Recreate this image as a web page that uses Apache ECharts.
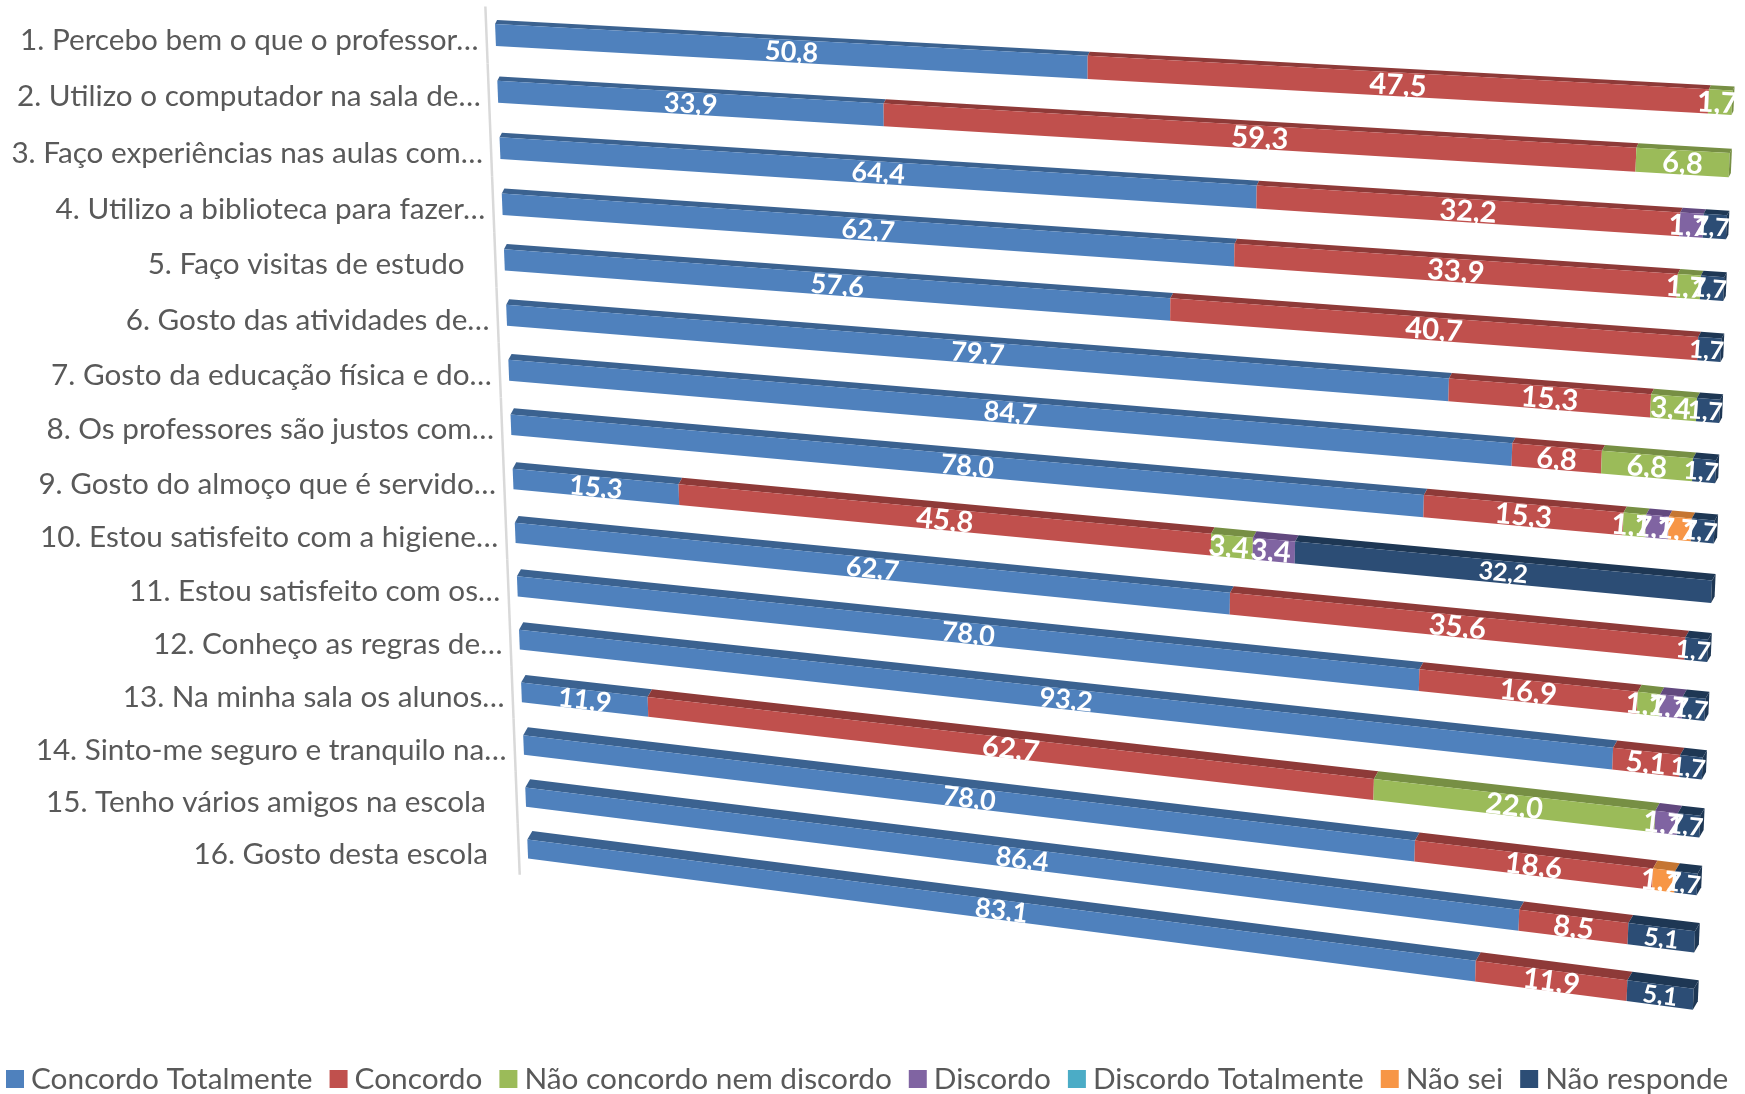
<!DOCTYPE html>
<html><head><meta charset="utf-8">
<style>html,body{margin:0;padding:0;background:#fff}#c{width:1745px;height:1094px}</style>
<script src="https://cdn.jsdelivr.net/npm/echarts@6/dist/echarts.min.js"></script>
</head><body><div id="c"></div>
<script>
const categories = [
 "1. Percebo bem o que o professor…",
 "2. Utilizo o computador na sala de…",
 "3. Faço experiências nas aulas com…",
 "4. Utilizo a biblioteca para fazer…",
 "5. Faço visitas de estudo\u00a0\u00a0\u00a0",
 "6. Gosto das atividades de…",
 "7. Gosto da educação física e do…",
 "8. Os professores são justos com…",
 "9. Gosto do almoço que é servido…",
 "10. Estou satisfeito com a higiene…",
 "11. Estou satisfeito com os…",
 "12. Conheço as regras de…",
 "13. Na minha sala os alunos…",
 "14. Sinto-me seguro e tranquilo na…",
 "15. Tenho vários amigos na escola\u00a0\u00a0\u00a0",
 "16. Gosto desta escola\u00a0\u00a0\u00a0"
];
const concordoTotalmente = [50.8,33.9,64.4,62.7,57.6,79.7,84.7,78.0,15.3,62.7,78.0,93.2,11.9,78.0,86.4,83.1];
const concordo           = [47.5,59.3,32.2,33.9,40.7,15.3,6.8,15.3,45.8,35.6,16.9,5.1,62.7,18.6,8.5,11.9];
const naoConcordoNem     = [1.7,6.8,0,1.7,0,3.4,6.8,1.7,3.4,0,1.7,0,22.0,0,0,0];
const discordo           = [0,0,1.7,0,0,0,0,1.7,3.4,0,1.7,0,1.7,0,0,0];
const discordoTotalmente = [0,0,0,0,0,0,0,0,0,0,0,0,0,0,0,0];
const naoSei             = [0,0,0,0,0,0,0,1.7,0,0,0,0,0,1.7,0,0];
const naoResponde        = [0,0,1.7,1.7,1.7,1.7,1.7,1.7,32.2,1.7,1.7,1.7,1.7,1.7,5.1,5.1];

const seriesNames = ["Concordo Totalmente","Concordo","Não concordo nem discordo","Discordo","Discordo Totalmente","Não sei","Não responde"];
const seriesValues = [concordoTotalmente,concordo,naoConcordoNem,discordo,discordoTotalmente,naoSei,naoResponde];
const colors = ["#4F81BD","#C0504D","#9BBB59","#8064A2","#4BACC6","#F79646","#2C4D75"];
const topColors = ["#3B6290","#8E3A38","#778F44","#62497F","#3888A0","#C57632","#1E3754"];
const FONT = 'Lato, "Open Sans", sans-serif';

// perspective of the 3-D plot, applied to the pixels the axes produce
const L0=[495.5,35], R0=[1732,102.7], L1=[527.7,849], R1=[1692,999];
const A=0.89, B=1.05;
const lerp=(a,b,t)=>a+(b-a)*t;
function warp(px,py,cs){
  const band=cs.height/16, s=(py-(cs.y+band/2))/(cs.height-band);
  const u=(px-cs.x)/cs.width, uu=A*u/(1+(A-1)*u), vv=B*s/(1+(B-1)*s);
  const lx=lerp(L0[0],L1[0],vv), ly=lerp(L0[1],L1[1],vv), rx=lerp(R0[0],R1[0],vv), ry=lerp(R0[1],R1[1],vv);
  return [lerp(lx,rx,uu),lerp(ly,ry,uu)];
}
function stackedData(k){
  return seriesValues[k].map((v,i)=>{
    let st=0; for(let j=0;j<k;j++) st+=seriesValues[j][i];
    return [i,st,st+v,v];
  });
}
function isLast(k,row){ for(let j=k+1;j<seriesValues.length;j++) if(seriesValues[j][row]>0) return false; return true; }
const fontSizes=[27,29,29,29,29,29,25];

function barRender(k){
  return function(params,api){
    const row=api.value(0), st=api.value(1), en=api.value(2), val=api.value(3);
    if(!val) return null;
    const cs=params.coordSys, t=row/15;
    const a=api.coord([st,row]), b=api.coord([en,row]);
    const bandPx=cs.height/16, half=bandPx*lerp(0.39,0.37,t)/2;
    const p1=warp(a[0],a[1]-half,cs), p2=warp(b[0],b[1]-half,cs), p3=warp(b[0],b[1]+half,cs), p4=warp(a[0],a[1]+half,cs);
    const dy=lerp(4,8.5,t), dx=lerp(2,5,t);
    const back=p=>[p[0]+dx,p[1]-dy];
    const kids=[
      {type:'polygon',shape:{points:[p1,p2,back(p2),back(p1)]},style:{fill:topColors[k]}},
      {type:'polygon',shape:{points:[p1,p2,p3,p4]},style:{fill:colors[k]}}
    ];
    if(isLast(k,row)) kids.push({type:'polygon',shape:{points:[p2,back(p2),back(p3),p3]},style:{fill:topColors[k]}});
    const mx=(p1[0]+p2[0]+p3[0]+p4[0])/4, my=(p1[1]+p2[1]+p3[1]+p4[1])/4;
    const ang=Math.atan2(p2[1]-p1[1],p2[0]-p1[0]);
    kids.push({type:'text',x:mx-(val<4?3:0),y:my+1,rotation:-ang,z2:10,silent:true,
      style:{text:val.toFixed(1).replace('.',','),fill:'#fff',font:'bold '+fontSizes[k]+'px '+FONT,align:'center',verticalAlign:'middle'}});
    return {type:'group',children:kids};
  };
}
function labelRender(params,api){
  const row=api.value(0), cs=params.coordSys, band=cs.height/16;
  const c=api.coord([0,row]);
  const p=warp(c[0],c[1],cs), t0=warp(c[0],c[1]-band/2,cs), t1=warp(c[0],c[1]+band/2,cs);
  return {type:'group',children:[
    {type:'line',shape:{x1:t0[0]-9,y1:t0[1],x2:t1[0]-9,y2:t1[1]},style:{stroke:'#D9D9D9',lineWidth:2.5}},
    {type:'text',x:p[0]-17,y:p[1]+5,style:{text:categories[row],fill:'#595959',font:'29.7px '+FONT,align:'right',verticalAlign:'middle'}}
  ]};
}
const series=seriesNames.map((n,k)=>({
  name:n,type:'custom',clip:false,silent:true,
  itemStyle:{color:colors[k]},
  encode:{x:[1,2],y:0},
  data:stackedData(k),
  renderItem:barRender(k),animation:false
}));
series.push({name:'labels',type:'custom',clip:false,silent:true,encode:{x:-1,y:0},
  data:categories.map((c,i)=>[i]),renderItem:labelRender,animation:false});

const chart=echarts.init(document.getElementById('c'),null,{renderer:'canvas'});
chart.setOption({
  animation:false,backgroundColor:'#fff',
  grid:{left:0,right:0,top:0,bottom:0},
  xAxis:{type:'value',min:0,max:100,show:false},
  yAxis:{type:'category',inverse:true,data:categories,show:false},
  legend:{data:seriesNames,left:1,top:1059,width:1900,padding:5,itemWidth:18,itemHeight:18,itemGap:17,icon:'rect',
    textStyle:{fontFamily:FONT,fontSize:29.8,color:'#595959',padding:[0,0,0,2]}},
  series
});
</script></body></html>
